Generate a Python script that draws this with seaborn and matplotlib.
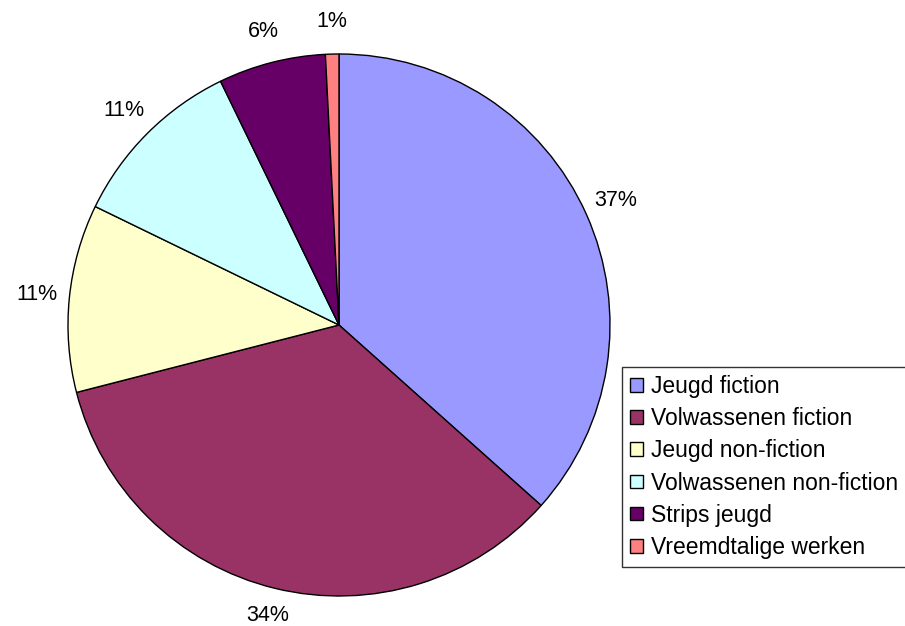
import matplotlib
matplotlib.use("Agg")
import matplotlib.pyplot as plt
import seaborn as sns

categories = ["Jeugd fiction", "Volwassenen fiction", "Jeugd non-fiction",
              "Volwassenen non-fiction", "Strips jeugd", "Vreemdtalige werken"]
values = [36.6, 34.4, 11.2, 10.6, 6.4, 0.8]
colors = ["#9999FF", "#993366", "#FFFFCC", "#CCFFFF", "#660066", "#FF8080"]

sns.set_style("white")
plt.rcParams['font.family'] = ['Liberation Sans', 'DejaVu Sans']
plt.rcParams['text.color'] = 'black'

W, H = 905, 626
fig = plt.figure(figsize=(W / 100, H / 100), dpi=100)
cx, cy, r = 339, 325, 271
ax = fig.add_axes([(cx - r) / W, (H - cy - r) / H, 2 * r / W, 2 * r / H])
wedges, texts, autotexts = ax.pie(
    values, colors=colors, startangle=90, counterclock=False,
    autopct=lambda p: f"{p:.0f}%", pctdistance=1.12, radius=1,
    wedgeprops=dict(edgecolor="black", linewidth=1.0),
    textprops=dict(fontsize=15.5, color="black"))
# nudge the bottom label up slightly so it stays within the canvas
x0, y0 = autotexts[1].get_position()
autotexts[1].set_position((x0, y0 + 0.018))
ax.set_xlim(-1, 1)
ax.set_ylim(-1, 1)
ax.set_aspect("equal")
ax.axis("off")

leg = fig.legend(wedges, categories, loc="upper left",
                 bbox_to_anchor=(622 / W, (H - 562) / H, 300 / W, 195 / H),
                 mode="expand",
                 frameon=True, fancybox=False, shadow=False,
                 fontsize=16.5, handlelength=0.55, handleheight=0.55,
                 handletextpad=0.35, labelspacing=0.4, borderpad=0.35,
                 borderaxespad=0, labelcolor="black")
leg.get_frame().set_edgecolor("black")
leg.get_frame().set_linewidth(1.0)

fig.savefig("out.png", dpi=100, facecolor="white")
